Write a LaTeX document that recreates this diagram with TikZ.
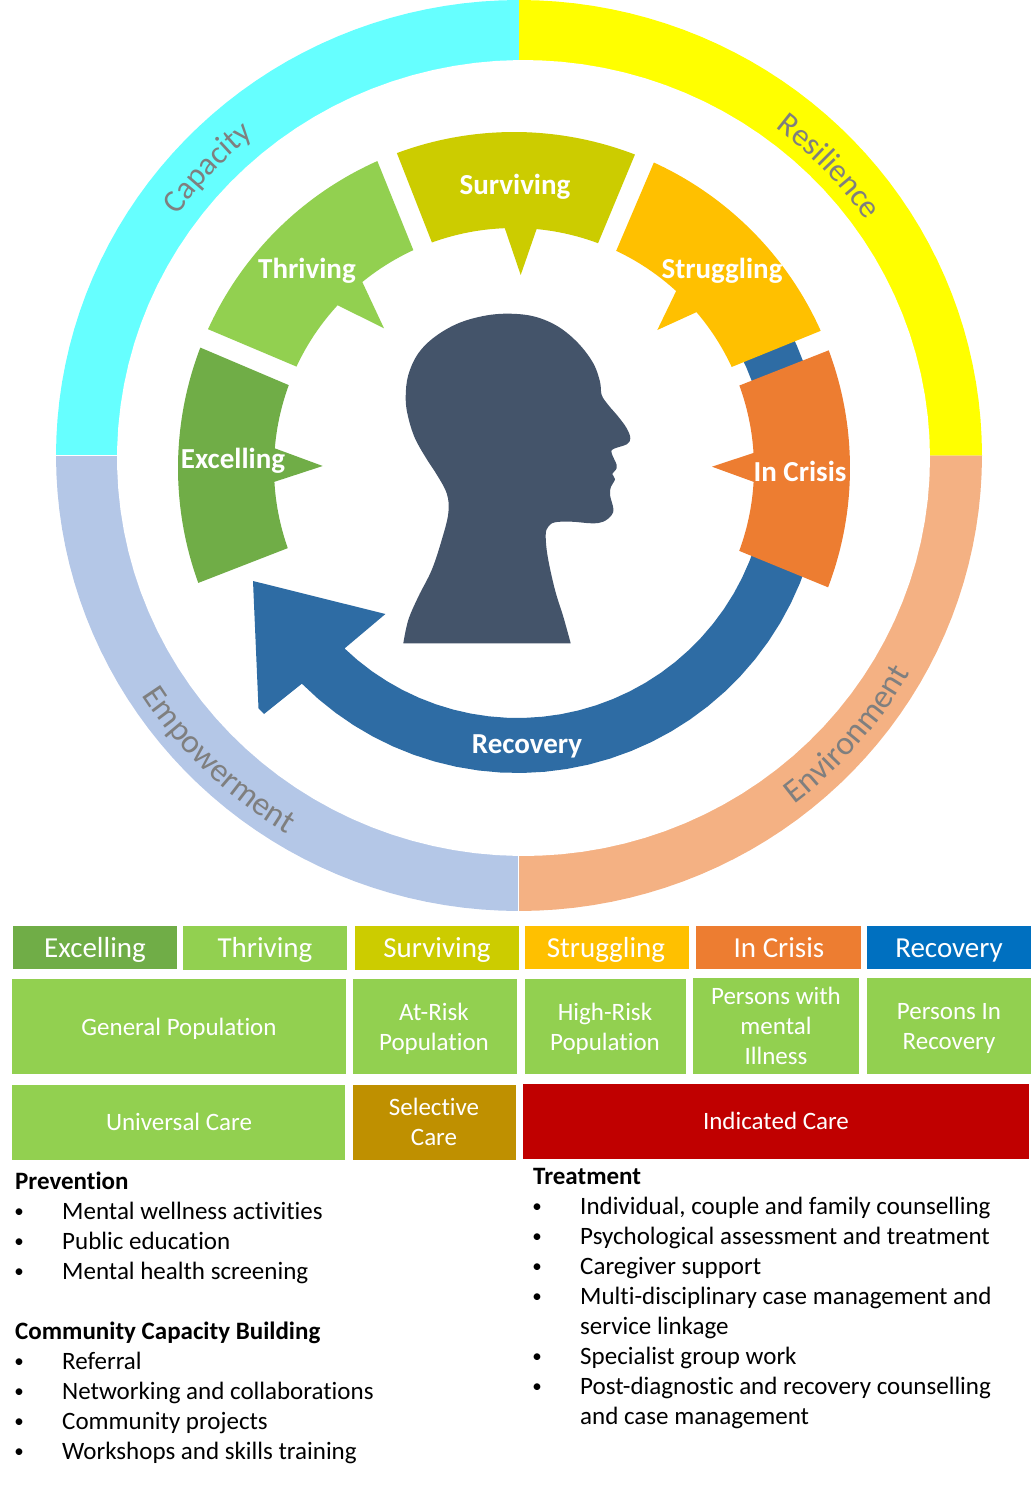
\documentclass[tikz,border=0pt]{standalone}
\usepackage{fontspec}
\setmainfont{Carlito}[Ligatures=NoCommon]
\usetikzlibrary{decorations.text}
\definecolor{cCapacity}{HTML}{66FFFF}
\definecolor{cResilience}{HTML}{FFFF00}
\definecolor{cEmpower}{HTML}{B4C7E7}
\definecolor{cEnviron}{HTML}{F4B183}
\definecolor{cExcel}{HTML}{70AD47}
\definecolor{cThrive}{HTML}{92D050}
\definecolor{cSurvive}{HTML}{CCCC00}
\definecolor{cStruggle}{HTML}{FFC000}
\definecolor{cCrisis}{HTML}{ED7D31}
\definecolor{cBand}{HTML}{2E6CA4}
\definecolor{cRecovery}{HTML}{0070C0}
\definecolor{cSelective}{HTML}{BF9000}
\definecolor{cIndicated}{HTML}{C00000}
\definecolor{cHead}{HTML}{44546A}
\definecolor{cRingText}{HTML}{7F7F7F}
\newcommand{\pxfont}[2]{\fontsize{#1}{#2}\selectfont}
\newcommand{\ringfontA}{\pxfont{32}{40}\color{cRingText}}
\newcommand{\ringfontB}{\pxfont{33.5}{40}\color{cRingText}}
% centres and radii of the circular bands
\newcommand{\Cx}{514}
\newcommand{\Cy}{468}
\newcommand{\Rout}{336}
\newcommand{\Rin}{240}
\newcommand{\Bx}{517.5}
\newcommand{\By}{468}
\tikzset{
  arcspan/.style={domain=#1,samples=40},
  celllabel/.style={text=white,align=center,inner sep=0pt,font=\pxfont{25}{30}},
  cellbase/.style={text=white,anchor=base,inner sep=0pt,font=\pxfont{25}{30}},
  headcell/.style={text=white,anchor=base,inner sep=0pt,font=\pxfont{29}{30}},
  ringlabel/.style={text=white,anchor=base,inner sep=0pt,font=\pxfont{29}{30}\bfseries},
  listline/.style={anchor=base west,inner sep=0pt,yshift=-0.5pt,font=\pxfont{25}{30},text=black},
  listhead/.style={anchor=base west,inner sep=0pt,yshift=-0.5pt,font=\pxfont{25}{30}\bfseries,text=black},
  listdot/.style={anchor=base,inner sep=0pt,yshift=1.8pt,font=\pxfont{19}{30},text=black},
  ringtextA/.style={decorate,decoration={text along path,text={|\ringfontA|#1},text align=center}},
  ringtextB/.style={decorate,decoration={text along path,text={|\ringfontB|#1},text align=center}}
}
\begin{document}
\begin{tikzpicture}[x=1pt,y=-1pt]
\useasboundingbox (0,0) rectangle (1035,1507);

% outer ring, four quadrants
\fill[cCapacity] (519,455.5) -- plot[arcspan=180:90] ({519+463*cos(\x)},{455.5-455.5*sin(\x)}) -- cycle;
\fill[cResilience] (519,455.5) -- plot[arcspan=90:0] ({519+463*cos(\x)},{455.5-455.5*sin(\x)}) -- cycle;
\fill[cEnviron] (519,455.5) -- plot[arcspan=0:-90] ({519+463*cos(\x)},{455.5-455.5*sin(\x)}) -- cycle;
\fill[cEmpower] (519,455.5) -- plot[arcspan=-90:-180] ({519+463*cos(\x)},{455.5-455.5*sin(\x)}) -- cycle;
\fill[white] plot[domain=0:360,samples=120] ({523.5+406.5*cos(\x)},{458-398*sin(\x)}) -- cycle;
\draw[white,line width=1pt] (518.5,850) -- (518.5,912);
\draw[white,line width=1pt] (50,455.5) -- (125,455.5);

% labels along the ring
\path[ringtextA=Capacity] plot[arcspan=161.4:112.4] ({519+420*cos(\x)},{455.5-413*sin(\x)});
\path[ringtextA=Resilience] plot[arcspan=68.4:18.4] ({519+421*cos(\x)},{455.5-414*sin(\x)});
\path[ringtextB=Environment] plot[arcspan=-70.7:-10.7] ({519+449*cos(\x)},{455.5-442*sin(\x)});
\path[ringtextB=Empowerment] plot[arcspan=195.8:255.8] ({519+449*cos(\x)},{455.5-442*sin(\x)});

% recovery arrow running beneath the coloured segments
\fill[cBand] plot[arcspan=28:-135] ({\Bx+305*cos(\x)},{\By-305*sin(\x)})
  -- (264,714) -- (258.5,708.3) -- (253,581) -- (385.4,614) -- (344.7,648.3)
  -- plot[arcspan=-134:28] ({\Bx+250*cos(\x)},{\By-250*sin(\x)}) -- cycle;

% coloured segments, each with a pointer towards the head
\fill[cExcel] plot[arcspan=159:200] ({\Cx+\Rout*cos(\x)},{\Cy-\Rout*sin(\x)})
  -- plot[arcspan=199.5:183.3] ({\Cx+\Rin*cos(\x)},{\Cy-\Rin*sin(\x)})
  -- (322.7,466)
  -- plot[arcspan=175.3:159.8] ({\Cx+\Rin*cos(\x)},{\Cy-\Rin*sin(\x)}) -- cycle;
\fill[cThrive] plot[arcspan=155.6:114] ({\Cx+\Rout*cos(\x)},{\Cy-\Rout*sin(\x)})
  -- plot[arcspan=114.8:129.2] ({\Cx+\Rin*cos(\x)},{\Cy-\Rin*sin(\x)})
  -- (384,328.3)
  -- plot[arcspan=137.3:155] ({\Cx+\Rin*cos(\x)},{\Cy-\Rin*sin(\x)}) -- cycle;
\fill[cSurvive] plot[arcspan=110.4:68.9] ({\Cx+\Rout*cos(\x)},{\Cy-\Rout*sin(\x)})
  -- plot[arcspan=69.5:84.6] ({\Cx+\Rin*cos(\x)},{\Cy-\Rin*sin(\x)})
  -- (520.7,275)
  -- plot[arcspan=92.2:110] ({\Cx+\Rin*cos(\x)},{\Cy-\Rin*sin(\x)}) -- cycle;
\fill[cStruggle] plot[arcspan=65.4:24.1] ({\Cx+\Rout*cos(\x)},{\Cy-\Rout*sin(\x)})
  -- plot[arcspan=24.9:40.5] ({\Cx+\Rin*cos(\x)},{\Cy-\Rin*sin(\x)})
  -- (657.3,330)
  -- plot[arcspan=47.5:64.8] ({\Cx+\Rin*cos(\x)},{\Cy-\Rin*sin(\x)}) -- cycle;
\fill[cCrisis] plot[arcspan=20.5:-20.8] ({\Cx+\Rout*cos(\x)},{\Cy-\Rout*sin(\x)})
  -- plot[arcspan=-20.2:-3.3] ({\Cx+\Rin*cos(\x)},{\Cy-\Rin*sin(\x)})
  -- (712,466.7)
  -- plot[arcspan=3.6:20.1] ({\Cx+\Rin*cos(\x)},{\Cy-\Rin*sin(\x)}) -- cycle;

\node[ringlabel] (lblExcelling) at (233,468.2) {Excelling};
\node[ringlabel] (lblThriving) at (307,278.2) {Thriving};
\node[ringlabel] (lblSurviving) at (515,194.2) {Surviving};
\node[ringlabel] (lblStruggling) at (722,278.2) {Struggling};
\node[ringlabel] (lblCrisis) at (800,481) {In Crisis};
\node[ringlabel] (lblRecovery) at (527,753.2) {Recovery};

% head silhouette
\fill[cHead] plot[smooth,tension=0.6] coordinates {(403.3,643.3) (408.3,620) (418.3,596.7) (431.7,570) (441.7,540) (448.3,513.3) (446.7,493.3) (435,471.7) (428.3,461.7) (415,438.3) (407.7,415) (405.7,396.7) (408.3,375) (418.3,353.3) (435,336.7) (458.3,323.3) (485,315.7) (510,313.7) (535,316.7) (558.3,326.7) (578.3,343.3) (593.3,363.3) (600,381.7) (601.7,395) (608.3,405) (618.3,416.7) (626.7,428.3) (630.3,438.3) (626.7,444.3) (613.3,449) (611.7,453.3) (616.7,465) (615.7,470) (612.3,474) (615,479.3) (611,486.7) (610,495) (613.3,508.3) (611.7,515) (603.3,521.7) (591.7,523.3) (571.7,521.7) (555,522.3) (548.3,526.7) (545.7,535) (547.7,556.7) (555,590) (563.3,616.7) (570.7,643.3)} -- cycle;

% stage headers
\fill[cExcel] (13,926) rectangle (177,969);
\node[headcell] (hExcelling) at (95,957) {Excelling};
\fill[cThrive] (183,926) rectangle (347,970);
\node[headcell] (hThriving) at (265,957) {Thriving};
\fill[cSurvive] (355,926) rectangle (519,970);
\node[headcell] (hSurviving) at (437,957) {Surviving};
\fill[cStruggle] (525,926) rectangle (689,969);
\node[headcell] (hStruggling) at (606,957) {Struggling};
\fill[cCrisis] (696,926) rectangle (861,969);
\node[headcell] (hCrisis) at (779,957) {In Crisis};
\fill[cRecovery] (867,926) rectangle (1031,969);
\node[headcell] (hRecovery) at (949,957) {Recovery};

% populations
\fill[cThrive] (12,979) rectangle (346,1074);
\node[cellbase] (pGeneral) at (179,1035) {General Population};
\fill[cThrive] (353,979) rectangle (517,1074);
\node[celllabel] (pAtRisk) at (434,1029) {At-Risk\\Population};
\fill[cThrive] (525,979) rectangle (686,1074);
\node[celllabel] (pHighRisk) at (605,1029) {High-Risk\\Population};
\fill[cThrive] (693,978) rectangle (859,1074);
\node[celllabel] (pIllness) at (776,1026) {Persons with\\mental\\Illness};
\fill[cThrive] (867,978) rectangle (1031,1074);
\node[celllabel] (pRecovery) at (949,1028.5) {Persons In\\Recovery};

% levels of care
\fill[cThrive] (12,1085) rectangle (345,1160);
\node[cellbase] (cUniversal) at (179,1130) {Universal Care};
\fill[cSelective] (353,1085) rectangle (516,1160);
\node[celllabel] (cSelective) at (434,1122) {Selective\\Care};
\fill[cIndicated] (523,1084) rectangle (1029,1159);
\node[cellbase] (cIndicated) at (776,1129) {Indicated Care};

% service lists, left column
\node[listhead] (prevHead) at (15,1189) {Prevention};
\node[listdot] (prevA) at (19,1219) {•};
\node[listline] (prevAt) at (62,1219) {Mental wellness activities};
\node[listdot] (prevB) at (19,1249) {•};
\node[listline] (prevBt) at (62,1249) {Public education};
\node[listdot] (prevC) at (19,1279) {•};
\node[listline] (prevCt) at (62,1279) {Mental health screening};
\node[listhead] (commHead) at (15,1339) {Community Capacity Building};
\node[listdot] (commA) at (19,1369) {•};
\node[listline] (commAt) at (62,1369) {Referral};
\node[listdot] (commB) at (19,1399) {•};
\node[listline] (commBt) at (62,1399) {Networking and collaborations};
\node[listdot] (commC) at (19,1429) {•};
\node[listline] (commCt) at (62,1429) {Community projects};
\node[listdot] (commD) at (19,1459) {•};
\node[listline] (commDt) at (62,1459) {Workshops and skills training};

% service lists, right column
\node[listhead] (treatHead) at (533,1184) {Treatment};
\node[listdot] (treatA) at (537,1214) {•};
\node[listline] (treatAt) at (580,1214) {Individual, couple and family counselling};
\node[listdot] (treatB) at (537,1244) {•};
\node[listline] (treatBt) at (580,1244) {Psychological assessment and treatment};
\node[listdot] (treatC) at (537,1274) {•};
\node[listline] (treatCt) at (580,1274) {Caregiver support};
\node[listdot] (treatD) at (537,1304) {•};
\node[listline] (treatDt) at (580,1304) {Multi-disciplinary case management and};
\node[listline] (treatDu) at (580,1334) {service linkage};
\node[listdot] (treatE) at (537,1364) {•};
\node[listline] (treatEt) at (580,1364) {Specialist group work};
\node[listdot] (treatF) at (537,1394) {•};
\node[listline] (treatFt) at (580,1394) {Post-diagnostic and recovery counselling};
\node[listline] (treatFu) at (580,1424) {and case management};
\end{tikzpicture}
\end{document}
